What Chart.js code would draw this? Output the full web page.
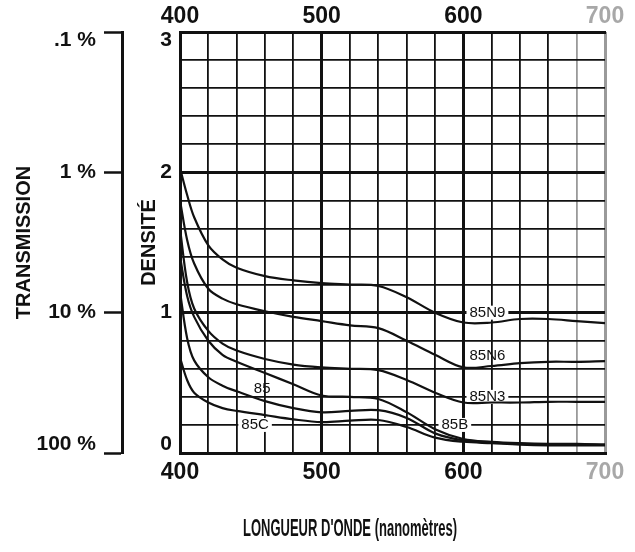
<!DOCTYPE html>
<html>
<head>
<meta charset="utf-8">
<script src="https://cdn.jsdelivr.net/npm/chart.js@4/dist/chart.umd.min.js"></script>
<style>
  body { margin: 0; background: #fff; }
  canvas { display: block; }
</style>
</head>
<body>
<canvas id="filter-chart" width="635" height="552"></canvas>
<script>
// wavelengths (nm) shared by every curve
const wavelengths = [400, 405, 410, 420, 430, 440, 460, 480, 500, 520, 540, 560, 580, 600, 620, 640, 660, 680, 700];

// density
const d85N9 = [2.03, 1.84, 1.68, 1.48, 1.38, 1.32, 1.26, 1.23, 1.21, 1.2, 1.19, 1.11, 1.0, 0.93, 0.93, 0.955, 0.955, 0.94, 0.925];
const d85N6 = [1.8, 1.52, 1.35, 1.17, 1.1, 1.06, 1.01, 0.97, 0.94, 0.91, 0.89, 0.8, 0.7, 0.61, 0.62, 0.64, 0.65, 0.65, 0.655];
const d85N3 = [1.6, 1.22, 1.03, 0.87, 0.78, 0.73, 0.67, 0.63, 0.61, 0.6, 0.59, 0.52, 0.43, 0.36, 0.36, 0.36, 0.365, 0.365, 0.365];
const d85   = [1.4, 1.12, 0.97, 0.8, 0.7, 0.65, 0.57, 0.49, 0.41, 0.4, 0.385, 0.29, 0.17, 0.1, 0.08, 0.07, 0.065, 0.065, 0.06];
const d85B  = [1.15, 0.82, 0.66, 0.54, 0.48, 0.44, 0.37, 0.32, 0.29, 0.3, 0.305, 0.25, 0.14, 0.09, 0.075, 0.065, 0.06, 0.06, 0.06];
const d85C  = [0.68, 0.52, 0.43, 0.36, 0.32, 0.3, 0.27, 0.24, 0.22, 0.23, 0.235, 0.185, 0.11, 0.08, 0.07, 0.06, 0.055, 0.055, 0.055];

const seriesNames = ['85N9', '85N6', '85N3', '85', '85B', '85C'];
const seriesValues = [d85N9, d85N6, d85N3, d85, d85B, d85C];

// tick labels
const waveLabels = ['400', '500', '600', '700'];
const densityLabels = ['0', '1', '2', '3'];
const transmissionLabels = ['100 %', '10 %', '1 %', '.1 %'];

// where each curve name is written (nm, density)
const curveLabels = [
    { text: '85N9', wl: 617, d: 1.0, box: true },
    { text: '85N6', wl: 617, d: 0.69, box: false },
    { text: '85N3', wl: 617, d: 0.4, box: true },
    { text: '85B', wl: 594, d: 0.2, box: true },
    { text: '85', wl: 458, d: 0.46, box: false },
    { text: '85C', wl: 453, d: 0.2, box: true },
];

const ink = '#111';
const sans = '"Liberation Sans", Arial, sans-serif';

const isWhole = (v) => Math.abs(v - Math.round(v)) < 1e-6;

const curveLabelPlugin = {
    id: 'curveLabels',
    beforeDatasetsDraw(chart) {
        const { ctx, scales: { x, y } } = chart;
        ctx.save();
        ctx.font = '15px ' + sans;
        ctx.textAlign = 'center';
        ctx.textBaseline = 'middle';
        curveLabels.forEach((l) => {
            const px = x.getPixelForValue(l.wl);
            const py = y.getPixelForValue(l.d);
            const w = ctx.measureText(l.text).width;
            if (l.box) {
                ctx.fillStyle = '#fff';
                ctx.fillRect(px - w / 2 - 3, py - 7, w + 6, 14);
            }
            ctx.fillStyle = ink;
            ctx.fillText(l.text, px, py);
        });
        ctx.restore();
    },
    afterDraw(chart) {
        // x axis caption, set left of the plot centre like the original
        const { ctx, scales: { x } } = chart;
        ctx.save();
        ctx.font = 'bold 23px ' + sans;
        ctx.fillStyle = ink;
        ctx.textAlign = 'center';
        ctx.textBaseline = 'middle';
        ctx.fillText("LONGUEUR D'ONDE (nanomètres)", x.getPixelForValue(520), 530, 214);
        ctx.restore();
    }
};

const ctx = document.getElementById('filter-chart').getContext('2d');
const filterChart = new Chart(ctx, {
    type: 'line',
    data: {
        datasets: seriesNames.map((name, i) => ({
            label: name,
            data: wavelengths.map((wl, j) => ({ x: wl, y: seriesValues[i][j] })),
            borderColor: ink,
            borderWidth: 2.2,
            pointRadius: 0,
            fill: false,
            tension: 0.35,
        }))
    },
    options: {
        responsive: false,
        animation: false,
        devicePixelRatio: 1,
        layout: { padding: { left: 0, right: 30, top: 0, bottom: 0 } },
        plugins: {
            legend: { display: false },
            tooltip: { enabled: false },
        },
        scales: {
            x: {
                type: 'linear',
                position: 'bottom',
                min: 400,
                max: 700,
                afterFit: (scale) => { scale.height = 99; },
                border: { display: true, color: ink, width: 3 },
                grid: {
                    drawTicks: false,
                    color: (c) => (c.tick && c.tick.value >= 680 ? '#9a9a9a' : ink),
                    lineWidth: (c) => (c.tick && c.tick.value % 100 === 0 ? 3 : 1.8),
                },
                ticks: {
                    stepSize: 20,
                    autoSkip: false,
                    maxRotation: 0,
                    padding: 6,
                    font: { family: sans, size: 23, weight: 'bold' },
                    color: (c) => (c.tick && c.tick.value === 700 ? '#a8a8a8' : ink),
                    callback: (v) => (v % 100 === 0 ? waveLabels[(v - 400) / 100] : ''),
                },
            },
            xTop: {
                type: 'linear',
                position: 'top',
                min: 400,
                max: 700,
                afterFit: (scale) => { scale.height = 32; },
                border: { display: true, color: ink, width: 3 },
                grid: { drawOnChartArea: false, drawTicks: false },
                ticks: {
                    stepSize: 100,
                    autoSkip: false,
                    maxRotation: 0,
                    padding: 2,
                    font: { family: sans, size: 23, weight: 'bold' },
                    color: (c) => (c.tick && c.tick.value === 700 ? '#a8a8a8' : ink),
                    callback: (v) => waveLabels[(v - 400) / 100],
                },
            },
            y: {
                type: 'linear',
                position: 'left',
                weight: 0,
                min: 0,
                max: 3,
                afterFit: (scale) => { scale.width = 58; },
                border: { display: true, color: ink, width: 3 },
                grid: {
                    drawTicks: false,
                    color: ink,
                    lineWidth: (c) => (c.tick && isWhole(c.tick.value) ? 3 : 1.8),
                },
                title: {
                    display: true,
                    text: 'DENSITÉ',
                    color: ink,
                    font: { family: sans, size: 20, weight: 'bold' },
                    padding: { top: 15, bottom: 0 },
                },
                ticks: {
                    stepSize: 0.2,
                    autoSkip: false,
                    padding: 8,
                    color: ink,
                    font: { family: sans, size: 21, weight: 'bold', lineHeight: 0.8 },
                    callback: (v) => {
                        if (!isWhole(v)) return '';
                        const r = Math.round(v);
                        if (r === 3) return ['', densityLabels[r]];
                        if (r === 0) return [densityLabels[r], ''];
                        return densityLabels[r];
                    },
                },
            },
            yT: {
                type: 'linear',
                position: 'left',
                weight: 1,
                min: 0,
                max: 3,
                afterFit: (scale) => { scale.width = 122; },
                border: { display: true, color: ink, width: 3 },
                grid: {
                    drawOnChartArea: false,
                    drawTicks: true,
                    tickLength: 18,
                    tickColor: ink,
                    tickWidth: 2.5,
                },
                title: {
                    display: true,
                    text: 'TRANSMISSION',
                    color: ink,
                    font: { family: sans, size: 20, weight: 'bold' },
                    padding: { top: 12, bottom: 0 },
                },
                ticks: {
                    stepSize: 1,
                    autoSkip: false,
                    padding: 8,
                    color: ink,
                    font: { family: sans, size: 21, weight: 'bold', lineHeight: 0.8 },
                    callback: (v) => {
                        const r = Math.round(v);
                        if (r === 3) return ['', transmissionLabels[r]];
                        if (r === 0) return [transmissionLabels[r], ''];
                        return transmissionLabels[r];
                    },
                },
            },
        },
    },
    plugins: [curveLabelPlugin],
});
</script>
</body>
</html>
